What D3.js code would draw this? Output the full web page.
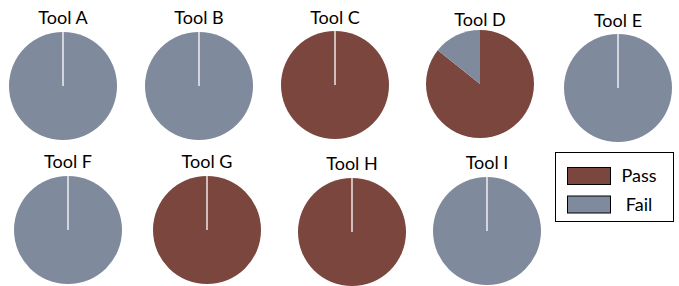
<!DOCTYPE html>
<html>
<head>
<meta charset="utf-8">
<script src="https://cdn.jsdelivr.net/npm/d3@7"></script>
<style>
  html, body { margin: 0; padding: 0; background: #fff; }
  svg { display: block; }
  text { font-family: Lato, "Open Sans", sans-serif; fill: #000; }
</style>
</head>
<body>
<svg id="chart" width="679" height="286"></svg>
<script>
// ---- data ----
const tools = ["Tool A", "Tool B", "Tool C", "Tool D", "Tool E", "Tool F", "Tool G", "Tool H", "Tool I"];
const passCounts = [0, 0, 1, 6, 0, 0, 1, 1, 0];
const failCounts = [1, 1, 0, 1, 1, 1, 0, 0, 1];
const seriesNames = ["Pass", "Fail"];

// ---- layout (positions only) ----
const panelLayout = [
  { cx: 63,  cy: 86,  ty: 24 },
  { cx: 199, cy: 86,  ty: 24 },
  { cx: 335, cy: 85,  ty: 23.5 },
  { cx: 480, cy: 84,  ty: 26 },
  { cx: 618, cy: 88,  ty: 27 },
  { cx: 68,  cy: 230, ty: 168 },
  { cx: 207, cy: 230, ty: 167.5 },
  { cx: 352, cy: 232, ty: 169.5 },
  { cx: 487, cy: 231, ty: 168.5 }
];
const radius = 54;
const colors = { Pass: "#7a463d", Fail: "#7f8a9c" };

const svg = d3.select("#chart");
const color = d3.scaleOrdinal().domain(seriesNames).range([colors.Pass, colors.Fail]);
const pie = d3.pie().sort(null).value(d => d.value);
const arc = d3.arc().innerRadius(0).outerRadius(radius);

tools.forEach((tool, i) => {
  const lay = panelLayout[i];
  const data = seriesNames.map((s, k) => ({ name: s, value: k === 0 ? passCounts[i] : failCounts[i] }));
  const g = svg.append("g").attr("transform", `translate(${lay.cx},${lay.cy})`);
  const slices = pie(data).filter(d => d.value > 0);
  g.selectAll("path.slice")
    .data(slices)
    .enter().append("path")
    .attr("class", "slice")
    .attr("d", arc)
    .attr("fill", d => color(d.data.name));
  // a single full slice shows its border line from centre to top
  if (slices.length === 1) {
    const a = slices[0].startAngle;
    g.append("line")
      .attr("x1", 0).attr("y1", 0)
      .attr("x2", radius * Math.sin(a)).attr("y2", -radius * Math.cos(a))
      .attr("stroke", "#ffffff").attr("stroke-opacity", 0.65).attr("stroke-width", 2);
  }
  svg.append("text")
    .attr("x", lay.cx).attr("y", lay.ty)
    .attr("text-anchor", "middle")
    .attr("font-size", 18)
    .text(tool);
});

// ---- legend ----
const legend = svg.append("g");
legend.append("rect")
  .attr("x", 555.5).attr("y", 152.5).attr("width", 118).attr("height", 69)
  .attr("fill", "#fff").attr("stroke", "#000").attr("stroke-width", 1);
seriesNames.forEach((s, k) => {
  const y = 167.5 + k * 28.5;
  legend.append("rect")
    .attr("x", 567.5).attr("y", y).attr("width", 43).attr("height", 17)
    .attr("fill", color(s)).attr("stroke", "#000").attr("stroke-width", 1);
  legend.append("text")
    .attr("x", 639).attr("y", y + 8.5)
    .attr("dy", "0.35em")
    .attr("text-anchor", "middle")
    .attr("font-size", 18)
    .text(s);
});
</script>
</body>
</html>
